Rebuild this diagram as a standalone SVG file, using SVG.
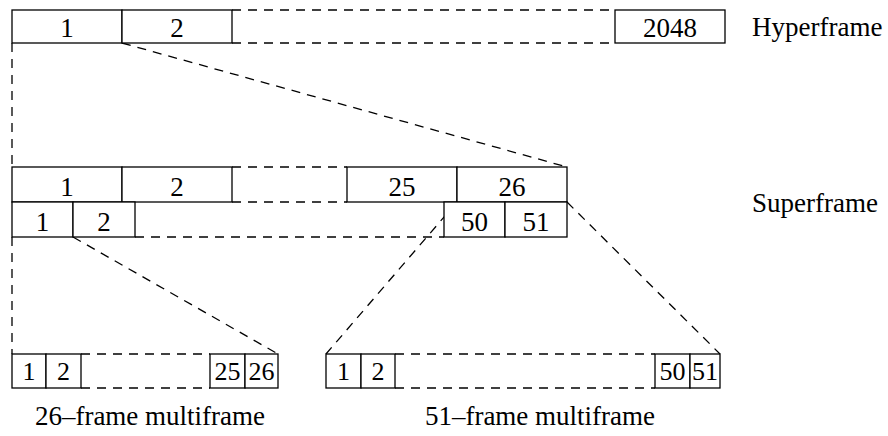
<svg xmlns="http://www.w3.org/2000/svg" width="888" height="436" viewBox="0 0 888 436">
<style>
  .box { fill: #fff; stroke: #000; stroke-width: 1.3; }
  .dash { fill: none; stroke: #000; stroke-width: 1.3; stroke-dasharray: 9 7; }
  .t { font-family: "Liberation Serif", "Times New Roman", serif; font-size: 27px; fill: #000; text-anchor: middle; }
  .s { font-size: 26px; }
  .lbl { font-family: "Liberation Serif", "Times New Roman", serif; font-size: 27px; fill: #000; }
</style>
<rect width="888" height="436" fill="#fff"/>
<g id="connectors">
  <!-- hyperframe gap -->
  <line class="dash" x1="232" y1="10" x2="615" y2="10"/>
  <line class="dash" x1="232" y1="43" x2="615" y2="43"/>
  <!-- left vertical -->
  <line class="dash" x1="12" y1="43" x2="12" y2="167"/>
  <line class="dash" x1="12" y1="237" x2="12" y2="354"/>
  <!-- hyperframe slot 2 expands to superframe -->
  <line class="dash" x1="122" y1="43" x2="567" y2="167"/>
  <!-- superframe gaps -->
  <line class="dash" x1="232" y1="167" x2="347" y2="167"/>
  <line class="dash" x1="232" y1="202" x2="347" y2="202"/>
  <line class="dash" x1="135" y1="237" x2="444" y2="237"/>
  <!-- superframe to multiframes -->
  <line class="dash" x1="73" y1="237" x2="278" y2="354"/>
  <line class="dash" x1="457" y1="202" x2="326" y2="354"/>
  <line class="dash" x1="567" y1="202" x2="720" y2="354"/>
  <!-- multiframe gaps -->
  <line class="dash" x1="81" y1="354" x2="210" y2="354"/>
  <line class="dash" x1="81" y1="388" x2="210" y2="388"/>
  <line class="dash" x1="395" y1="354" x2="655" y2="354"/>
  <line class="dash" x1="395" y1="388" x2="655" y2="388"/>
</g>
<g id="hyperframe">
  <g id="hf1"><rect class="box" x="12" y="10" width="110" height="33"/><text class="t" x="67" y="37">1</text></g>
  <g id="hf2"><rect class="box" x="122" y="10" width="110" height="33"/><text class="t" x="177" y="37">2</text></g>
  <g id="hf2048"><rect class="box" x="615" y="10" width="110" height="33"/><text class="t" x="670" y="37">2048</text></g>
  <text class="lbl" x="752" y="36">Hyperframe</text>
</g>
<g id="superframe">
  <g id="sf1"><rect class="box" x="12" y="167" width="110" height="35"/><text class="t" x="67" y="196">1</text></g>
  <g id="sf2"><rect class="box" x="122" y="167" width="110" height="35"/><text class="t" x="177" y="196">2</text></g>
  <g id="sf25"><rect class="box" x="347" y="167" width="110" height="35"/><text class="t" x="402" y="196">25</text></g>
  <g id="sf26"><rect class="box" x="457" y="167" width="110" height="35"/><text class="t" x="512" y="196">26</text></g>
  <g id="sfs1"><rect class="box" x="12" y="202" width="61" height="35"/><text class="t" x="42.5" y="231">1</text></g>
  <g id="sfs2"><rect class="box" x="73" y="202" width="62" height="35"/><text class="t" x="104" y="231">2</text></g>
  <g id="sfs50"><rect class="box" x="444" y="202" width="61" height="35"/><text class="t" x="474.5" y="231">50</text></g>
  <g id="sfs51"><rect class="box" x="505" y="202" width="62" height="35"/><text class="t" x="536" y="231">51</text></g>
  <text class="lbl" x="752" y="212">Superframe</text>
</g>
<g id="mf26">
  <g id="m26_1"><rect class="box" x="12" y="354" width="34" height="34"/><text class="t s" x="29" y="380">1</text></g>
  <g id="m26_2"><rect class="box" x="46" y="354" width="35" height="34"/><text class="t s" x="63.5" y="380">2</text></g>
  <g id="m26_25"><rect class="box" x="210" y="354" width="35" height="34"/><text class="t s" x="227.5" y="380">25</text></g>
  <g id="m26_26"><rect class="box" x="245" y="354" width="33" height="34"/><text class="t s" x="261.5" y="380">26</text></g>
  <text class="lbl" x="150" y="425" text-anchor="middle">26–frame multiframe</text>
</g>
<g id="mf51">
  <g id="m51_1"><rect class="box" x="326" y="354" width="35" height="34"/><text class="t s" x="343.5" y="380">1</text></g>
  <g id="m51_2"><rect class="box" x="361" y="354" width="34" height="34"/><text class="t s" x="378" y="380">2</text></g>
  <g id="m51_50"><rect class="box" x="655" y="354" width="35" height="34"/><text class="t s" x="672.5" y="380">50</text></g>
  <g id="m51_51"><rect class="box" x="690" y="354" width="30" height="34"/><text class="t s" x="705" y="380">51</text></g>
  <text class="lbl" x="540" y="425" text-anchor="middle">51–frame multiframe</text>
</g>
</svg>
